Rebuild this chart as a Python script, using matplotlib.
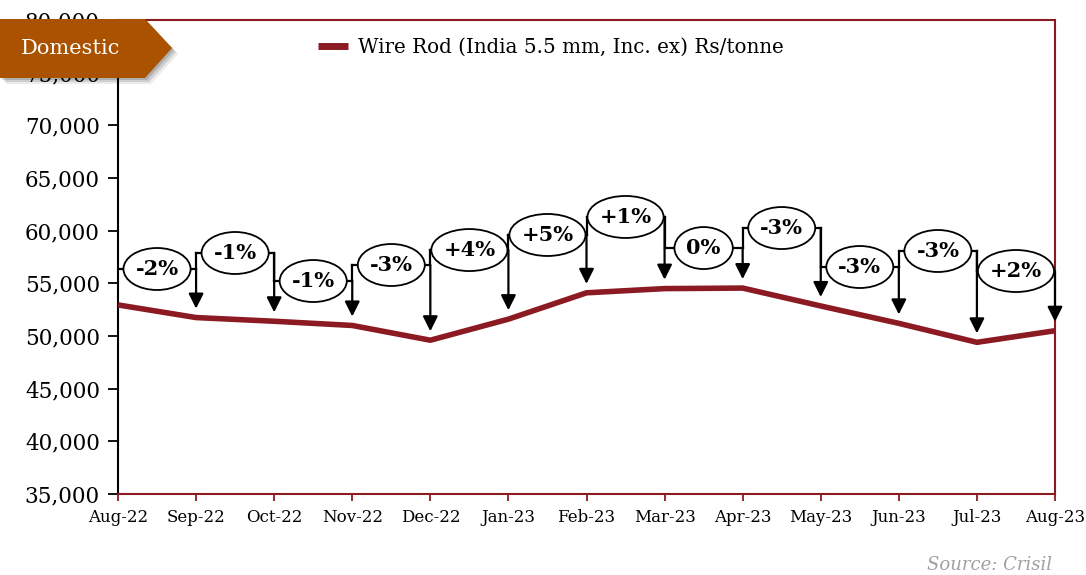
import numpy as np
import matplotlib
matplotlib.use("Agg")
from matplotlib import pyplot as plt
from matplotlib.patches import Polygon, Ellipse

months = ["Aug-22", "Sep-22", "Oct-22", "Nov-22", "Dec-22", "Jan-23", "Feb-23",
          "Mar-23", "Apr-23", "May-23", "Jun-23", "Jul-23", "Aug-23"]
wire_rod = [52950, 51750, 51400, 51000, 49600, 51600, 54100,
            54500, 54550, 52850, 51200, 49400, 50500]
changes = ["-2%", "-1%", "-1%", "-3%", "+4%", "+5%", "+1%",
           "0%", "-3%", "-3%", "-3%", "+2%"]
series_name = "Wire Rod (India 5.5 mm, Inc. ex) Rs/tonne"

# height of each change bracket (layout only)
bracket_y = [56360, 57880, 55220, 56740, 58160, 59590, 61300,
             58350, 60250, 56550, 58070, 56170]

red = "#8B1A22"
plt.rcParams["font.family"] = ["DejaVu Serif"]

fig = plt.figure(figsize=(10.86, 5.75), dpi=100)
ax = fig.add_axes([118/1086, 1 - 494/575, (1055-118)/1086, (494-20)/575])

x = np.arange(len(months))
ax.plot(x, wire_rod, color=red, lw=4, solid_capstyle="butt", label=series_name, zorder=3)

ax.set_xlim(0, len(months) - 1)
ax.set_ylim(35000, 80000)

# change brackets with arrows
gap = 850
labels = []
for i, lab in enumerate(changes):
    h = bracket_y[i]
    if i > 0:
        ax.plot([x[i], x[i]], [h, bracket_y[i-1]], color="black", lw=1.6, zorder=4)
    ax.plot([x[i], x[i+1]], [h, h], color="black", lw=1.6, zorder=4)
    ax.annotate("", xy=(x[i+1], wire_rod[i+1] + gap), xytext=(x[i+1], h),
                arrowprops=dict(arrowstyle="-|>,head_length=0.9,head_width=0.45",
                                color="black", lw=1.6, shrinkA=0, shrinkB=0),
                zorder=4)
    t = ax.text((x[i] + x[i+1]) / 2, h, lab, ha="center", va="center",
                fontsize=15, fontweight="bold", zorder=6)
    labels.append(t)

# ellipses sized from the text
fig.canvas.draw()
r = fig.canvas.get_renderer()
px_x = (len(months) - 1) / 937
px_y = 45000 / 474
for i, t in enumerate(labels):
    tw = t.get_window_extent(r).width
    ax.add_patch(Ellipse(((x[i] + x[i+1]) / 2, bracket_y[i]), (tw + 24) * px_x, 42 * px_y,
                         fc="white", ec="black", lw=1.3, zorder=5))

ax.set_yticks(np.arange(35000, 80001, 5000))
ax.set_yticklabels([f"{v:,}" for v in range(35000, 80001, 5000)], fontsize=15.5)
ax.set_xticks(x)
ax.set_xticklabels(months, fontsize=12)
ax.tick_params(axis="y", direction="out", length=7, width=1.3, color="black", pad=6)
ax.tick_params(axis="x", direction="out", length=5, width=1.3, color=red, pad=6)

for s in ["top", "right", "bottom"]:
    ax.spines[s].set_color(red)
    ax.spines[s].set_linewidth(1.5)
ax.spines["left"].set_color("black")
ax.spines["left"].set_linewidth(1.5)

leg = ax.legend(loc="upper center", bbox_to_anchor=(0.462, 1.0), frameon=False,
                fontsize=14.3, handlelength=1.5, handletextpad=0.5)
leg.get_lines()[0].set_linewidth(5)

# "Domestic" tag with shadow
def px(pts):
    return [(a / 1086, 1 - b / 575) for a, b in pts]

tag = [(0, 19), (145, 19), (172, 48), (145, 78), (0, 78)]
for k, al in [(6, 0.08), (4, 0.12), (2, 0.15)]:
    fig.patches.append(Polygon(px([(a + k, b + k) for a, b in tag]), closed=True,
                               transform=fig.transFigure, fc="black", ec="none",
                               alpha=al, zorder=10))
fig.patches.append(Polygon(px(tag), closed=True, transform=fig.transFigure,
                           fc="#AB5200", ec="none", zorder=11))
fig.text(70 / 1086, 1 - 49 / 575, "Domestic", color="white", fontsize=15,
         ha="center", va="center", zorder=12)

fig.text(1052 / 1086, 1 - 565 / 575, "Source: Crisil", color="#A0A0A0",
         fontsize=13, style="italic", ha="right", va="center")

fig.savefig("out.png", dpi=100)
